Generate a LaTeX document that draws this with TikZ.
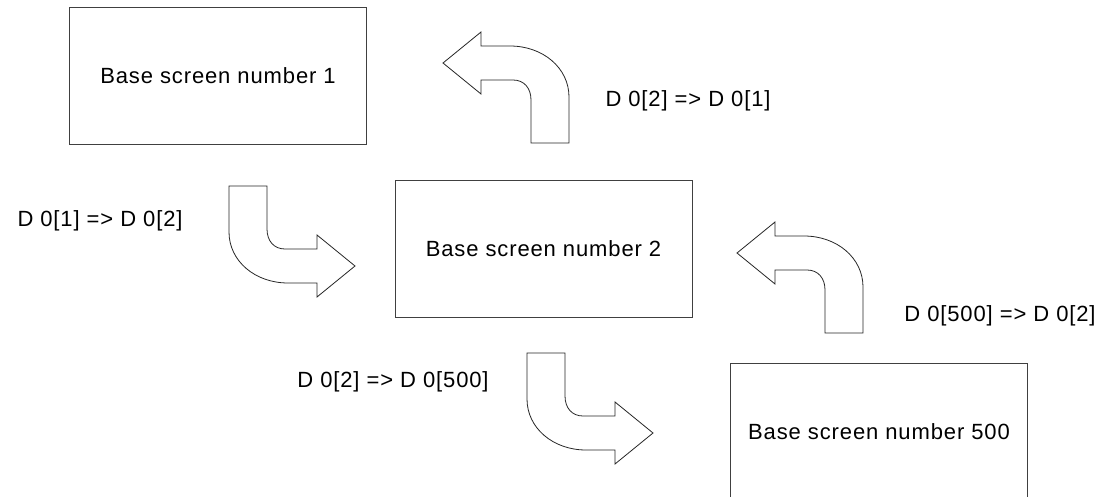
\documentclass[tikz,border=0pt]{standalone}
\usepackage{fontspec}
\setmainfont{Liberation Sans}[LetterSpace=4]
\begin{document}
\begin{tikzpicture}[x=1pt,y=-1pt,
  screenbox/.style={draw=black!75,line width=0.8pt,minimum width=297pt,minimum height=137pt,inner sep=0pt,
    font=\fontsize{22}{26}\selectfont},
  lbl/.style={inner sep=0pt,font=\fontsize{22}{26}\selectfont},
  bent/.style={draw=black!85,line width=0.8pt,line join=miter,fill=white}]
\useasboundingbox (0,0) rectangle (1115,497);
\clip (0,0) rectangle (1115,497);
\newcommand\bentarrowshape{%
  (0,0) -- (38,-31) -- (38,-17) -- (67,-17) .. controls (100,-17) and (126,5) .. (126,34)
  -- (126,80) -- (88,80) -- (88,37) .. controls (88,25) and (81,17) .. (70,17)
  -- (38,17) -- (38,31) -- cycle}
% boxes
\node[screenbox] (s1) at (218,76) {Base screen number 1};
\node[screenbox] (s2) at (543.5,249) {Base screen number 2};
\node[screenbox] (s3) at (879,432) {Base screen number 500};
% bent arrows
\begin{scope}[shift={(443,63)}]
  \draw[bent] \bentarrowshape;
\end{scope}
\begin{scope}[shift={(737,253)}]
  \draw[bent] \bentarrowshape;
\end{scope}
\begin{scope}[shift={(355,266)},rotate=180]
  \draw[bent] \bentarrowshape;
\end{scope}
\begin{scope}[shift={(653,433)},rotate=180]
  \draw[bent] \bentarrowshape;
\end{scope}
% labels
\node[lbl] (l21) at (688,101) {D 0[2] => D 0[1]};
\node[lbl] (l12) at (100,221) {D 0[1] => D 0[2]};
\node[lbl] (l5002) at (1000,316) {D 0[500] => D 0[2]};
\node[lbl] (l2500) at (393,382) {D 0[2] => D 0[500]};
\end{tikzpicture}
\end{document}
